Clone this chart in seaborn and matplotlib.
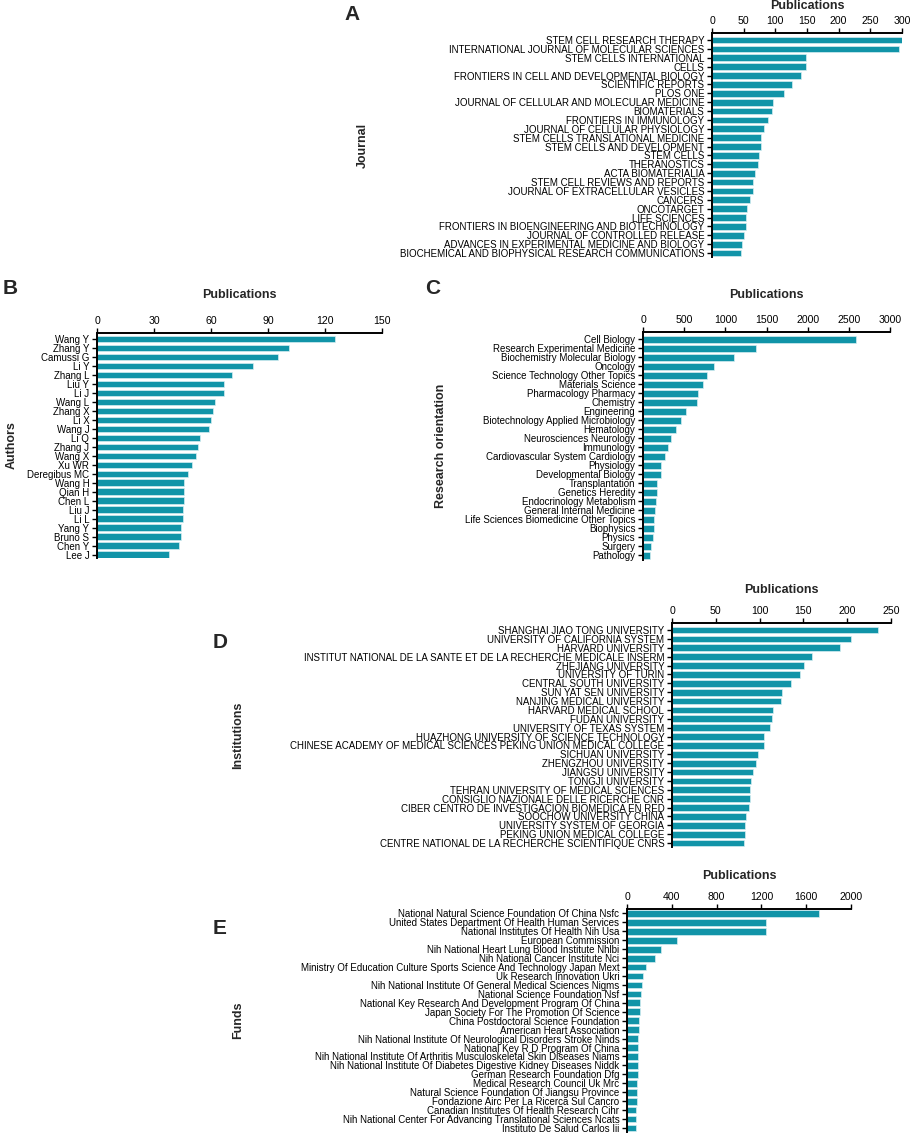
import seaborn as sns
import matplotlib.pyplot as plt
import pandas as pd

# data (publication counts)
journals = ["STEM CELL RESEARCH THERAPY", "INTERNATIONAL JOURNAL OF MOLECULAR SCIENCES",
            "STEM CELLS INTERNATIONAL", "CELLS", "FRONTIERS IN CELL AND DEVELOPMENTAL BIOLOGY",
            "SCIENTIFIC REPORTS", "PLOS ONE", "JOURNAL OF CELLULAR AND MOLECULAR MEDICINE",
            "BIOMATERIALS", "FRONTIERS IN IMMUNOLOGY", "JOURNAL OF CELLULAR PHYSIOLOGY",
            "STEM CELLS TRANSLATIONAL MEDICINE", "STEM CELLS AND DEVELOPMENT", "STEM CELLS",
            "THERANOSTICS", "ACTA BIOMATERIALIA", "STEM CELL REVIEWS AND REPORTS",
            "JOURNAL OF EXTRACELLULAR VESICLES", "CANCERS", "ONCOTARGET", "LIFE SCIENCES",
            "FRONTIERS IN BIOENGINEERING AND BIOTECHNOLOGY", "JOURNAL OF CONTROLLED RELEASE",
            "ADVANCES IN EXPERIMENTAL MEDICINE AND BIOLOGY",
            "BIOCHEMICAL AND BIOPHYSICAL RESEARCH COMMUNICATIONS"]
journal_pubs = [300, 296, 149, 149, 141, 127, 114, 96, 95, 89, 82, 78, 77, 74, 72,
                68, 65, 64, 60, 55, 54, 54, 51, 47, 46]

authors = ["Wang Y", "Zhang Y", "Camussi G", "Li Y", "Zhang L", "Liu Y", "Li J", "Wang L",
           "Zhang X", "Li X", "Wang J", "Li Q", "Zhang J", "Wang X", "Xu WR", "Deregibus MC",
           "Wang H", "Qian H", "Chen L", "Liu J", "Li L", "Yang Y", "Bruno S", "Chen Y", "Lee J"]
author_pubs = [125, 101, 95, 82, 71, 67, 67, 62, 61, 60, 59, 54, 53, 52, 50, 48,
               46, 46, 46, 45, 45, 44, 44, 43, 38]

areas = ["Cell Biology", "Research Experimental Medicine", "Biochemistry Molecular Biology",
         "Oncology", "Science Technology Other Topics", "Materials Science",
         "Pharmacology Pharmacy", "Chemistry", "Engineering", "Biotechnology Applied Microbiology",
         "Hematology", "Neurosciences Neurology", "Immunology", "Cardiovascular System Cardiology",
         "Physiology", "Developmental Biology", "Transplantation", "Genetics Heredity",
         "Endocrinology Metabolism", "General Internal Medicine",
         "Life Sciences Biomedicine Other Topics", "Biophysics", "Physics", "Surgery", "Pathology"]
area_pubs = [2590, 1370, 1110, 865, 772, 724, 671, 659, 522, 461, 404, 344, 307, 267,
             222, 222, 170, 168, 158, 150, 129, 129, 121, 97, 89]

institutions = ["SHANGHAI JIAO TONG UNIVERSITY", "UNIVERSITY OF CALIFORNIA SYSTEM",
                "HARVARD UNIVERSITY", "INSTITUT NATIONAL DE LA SANTE ET DE LA RECHERCHE MEDICALE INSERM",
                "ZHEJIANG UNIVERSITY", "UNIVERSITY OF TURIN", "CENTRAL SOUTH UNIVERSITY",
                "SUN YAT SEN UNIVERSITY", "NANJING MEDICAL UNIVERSITY", "HARVARD MEDICAL SCHOOL",
                "FUDAN UNIVERSITY", "UNIVERSITY OF TEXAS SYSTEM",
                "HUAZHONG UNIVERSITY OF SCIENCE TECHNOLOGY",
                "CHINESE ACADEMY OF MEDICAL SCIENCES PEKING UNION MEDICAL COLLEGE",
                "SICHUAN UNIVERSITY", "ZHENGZHOU UNIVERSITY", "JIANGSU UNIVERSITY",
                "TONGJI UNIVERSITY", "TEHRAN UNIVERSITY OF MEDICAL SCIENCES",
                "CONSIGLIO NAZIONALE DELLE RICERCHE CNR",
                "CIBER CENTRO DE INVESTIGACION BIOMEDICA EN RED", "SOOCHOW UNIVERSITY CHINA",
                "UNIVERSITY SYSTEM OF GEORGIA", "PEKING UNION MEDICAL COLLEGE",
                "CENTRE NATIONAL DE LA RECHERCHE SCIENTIFIQUE CNRS"]
institution_pubs = [235, 204, 192, 160, 151, 146, 136, 126, 124, 115, 114, 112, 105, 105,
                    98, 96, 92, 90, 89, 89, 88, 85, 83, 83, 82]

funds = ["National Natural Science Foundation Of China Nsfc",
         "United States Department Of Health Human Services", "National Institutes Of Health Nih Usa",
         "European Commission", "Nih National Heart Lung Blood Institute Nhlbi",
         "Nih National Cancer Institute Nci",
         "Ministry Of Education Culture Sports Science And Technology Japan Mext",
         "Uk Research Innovation Ukri", "Nih National Institute Of General Medical Sciences Nigms",
         "National Science Foundation Nsf", "National Key Research And Development Program Of China",
         "Japan Society For The Promotion Of Science", "China Postdoctoral Science Foundation",
         "American Heart Association", "Nih National Institute Of Neurological Disorders Stroke Ninds",
         "National Key R D Program Of China",
         "Nih National Institute Of Arthritis Musculoskeletal Skin Diseases Niams",
         "Nih National Institute Of Diabetes Digestive Kidney Diseases Niddk",
         "German Research Foundation Dfg", "Medical Research Council Uk Mrc",
         "Natural Science Foundation Of Jiangsu Province", "Fondazione Airc Per La Ricerca Sul Cancro",
         "Canadian Institutes Of Health Research Cihr",
         "Nih National Center For Advancing Translational Sciences Ncats",
         "Instituto De Salud Carlos Iii"]
fund_pubs = [1717, 1244, 1244, 449, 307, 250, 167, 143, 137, 122, 119, 113, 107, 107,
             101, 98, 95, 95, 95, 89, 89, 86, 83, 80, 77]

sns.set_style("ticks")
plt.rcParams['font.family'] = ['Liberation Sans', 'DejaVu Sans']

W, H = 913, 1135
fig = plt.figure(figsize=(W / 100, H / 100), dpi=100)
bar_color = "#1194a8"


def add_panel(box, names, values, ticks, ylim, pub_y):
    left, right, top, bottom = box
    ax = fig.add_axes([left / W, 1 - bottom / H, (right - left) / W, (bottom - top) / H])
    df = pd.DataFrame({"name": names, "pubs": values})
    sns.barplot(data=df, x="pubs", y="name", orient="h", color=bar_color, width=0.76,
                edgecolor="#d6eef2", linewidth=0.5, saturation=1, ax=ax)
    ax.set_xlim(ticks[0], ticks[-1])
    ax.set_ylim(*ylim)
    ax.set_xticks(ticks)
    ax.xaxis.tick_top()
    ax.xaxis.set_label_position("top")
    ax.set_xlabel("Publications", fontsize=9, fontweight="bold")
    ax.xaxis.set_label_coords(0.5, 1 + (top - pub_y) / (bottom - top))
    ax.xaxis.label.set_va("center")
    ax.set_ylabel("")
    for s in ["right", "bottom"]:
        ax.spines[s].set_visible(False)
    for s in ["top", "left"]:
        ax.spines[s].set_linewidth(1.4)
        ax.spines[s].set_color("black")
    ax.tick_params(axis="x", labelsize=7.6, length=3.5, width=1, pad=1.5, colors="black")
    ax.tick_params(axis="y", labelsize=7, length=3.5, width=1, pad=2, colors="black")
    ax.grid(False)
    return ax


add_panel((712, 902, 33, 257), journals, journal_pubs, [0, 50, 100, 150, 200, 250, 300],
          (24.45, -0.79), 6)
add_panel((97, 382, 333, 558), authors, author_pubs, [0, 30, 60, 90, 120, 150],
          (24.35, -0.67), 295)
add_panel((643, 890, 332, 560), areas, area_pubs, [0, 500, 1000, 1500, 2000, 2500, 3000],
          (24.5, -0.8), 295)
add_panel((672, 891, 623, 847), institutions, institution_pubs, [0, 50, 100, 150, 200, 250],
          (24.45, -0.79), 590)
add_panel((627, 851, 909, 1132), funds, fund_pubs, [0, 400, 800, 1200, 1600, 2000],
          (24.45, -0.5), 876)

# panel letters and side labels
for letter, x, y in [("A", 352, 15), ("B", 10, 288), ("C", 433, 289), ("D", 220, 642), ("E", 220, 928)]:
    fig.text(x / W, 1 - y / H, letter, fontsize=15, fontweight="bold", ha="center", va="center")

for label, x, y in [("Journal", 363, 145), ("Authors", 12, 445), ("Research orientation", 441, 446),
                    ("Institutions", 238, 735), ("Funds", 238, 1020)]:
    fig.text(x / W, 1 - y / H, label, fontsize=9, fontweight="bold", rotation=90,
             ha="center", va="center")

fig.savefig("out.png", dpi=100)
